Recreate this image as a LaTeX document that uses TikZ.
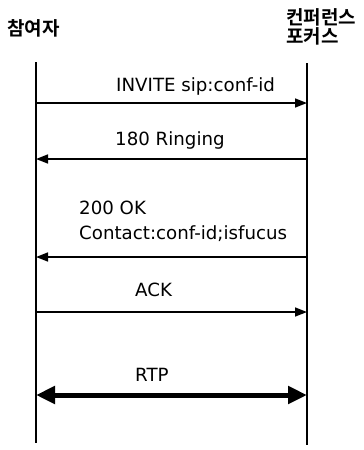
\documentclass[tikz,border=0pt]{standalone}
\usepackage{fontspec}
\setmainfont{DejaVu Sans}
\newfontfamily\krfont{Noto Sans CJK KR Bold}
\usetikzlibrary{arrows.meta}
\tikzset{
  life/.style={line width=1.3pt},
  msg/.style={line width=1.6pt,-{Triangle[length=12pt,width=9pt]}},
  rtp/.style={line width=5pt,{Triangle[length=19pt,width=17pt]}-{Triangle[length=19pt,width=17pt]}},
  lbl/.style={anchor=base west,inner sep=0pt,font=\fontsize{18.2}{22}\selectfont},
  hdr/.style={inner sep=0pt,font=\krfont\fontsize{19}{19.5}\selectfont,align=left}
}
\begin{document}
\begin{tikzpicture}[x=1pt,y=-1pt]
\useasboundingbox (0,0) rectangle (364,450);
\node[hdr,anchor=west] (ph) at (7,28) {참여자};
\node[hdr,anchor=west] (ch) at (286,27) {컨퍼런스\\[-1pt]포커스};
\coordinate (pt) at (36,62);
\coordinate (pb) at (36,443);
\coordinate (ct) at (307,63);
\coordinate (cb) at (307,445);
\draw[life] (pt) -- (pb);
\draw[life] (ct) -- (cb);
\coordinate (p1) at (36,103); \coordinate (c1) at (307,103);
\coordinate (p2) at (36,159); \coordinate (c2) at (307,159);
\coordinate (p3) at (36,257); \coordinate (c3) at (307,257);
\coordinate (p4) at (36,312); \coordinate (c4) at (307,312);
\coordinate (p5) at (36,395); \coordinate (c5) at (307,395);
\draw[msg] (p1) -- (c1);
\draw[msg] (c2) -- (p2);
\draw[msg] (c3) -- (p3);
\draw[msg] (p4) -- (c4);
\draw[rtp] (p5) -- (c5);
\node[lbl] (l1) at (116,91) {INVITE sip:conf-id};
\node[lbl] (l2) at (115,145) {180 Ringing};
\node[lbl] (l3a) at (79,214) {200 OK};
\node[lbl] (l3b) at (79,239) {Contact:conf-id;isfucus};
\node[lbl] (l4) at (135,296) {ACK};
\node[lbl] (l5) at (135,381) {RTP};
\end{tikzpicture}
\end{document}
